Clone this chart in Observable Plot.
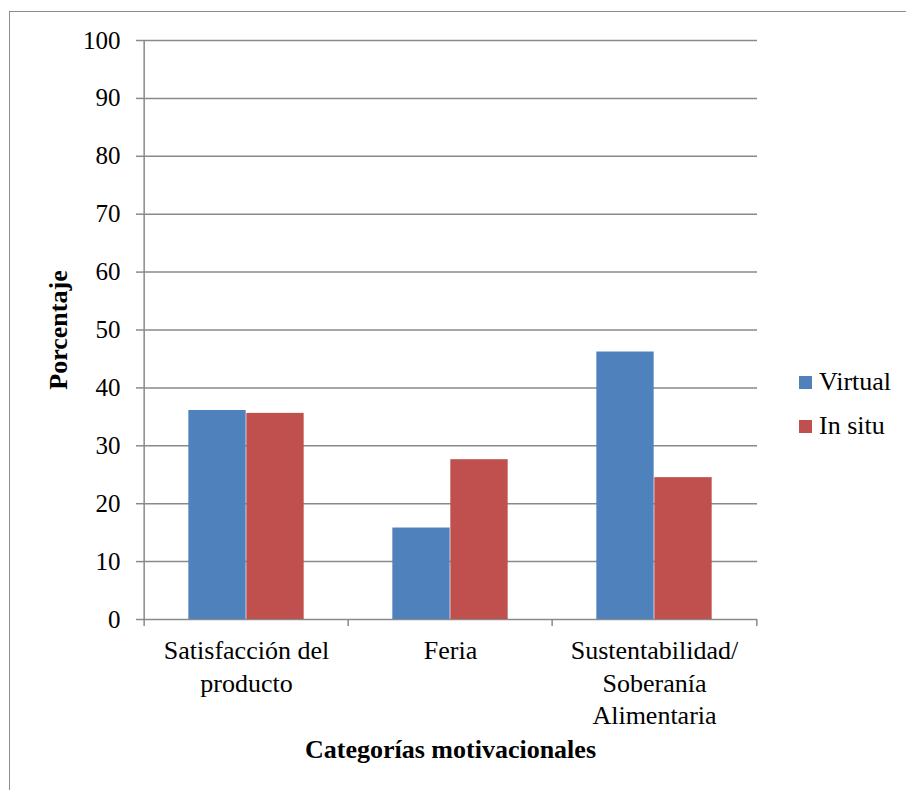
<!DOCTYPE html>
<html><head><meta charset="utf-8">
<script src="https://cdn.jsdelivr.net/npm/d3@7"></script>
<script src="https://cdn.jsdelivr.net/npm/@observablehq/plot@0.6"></script>
<style>
body{margin:0;background:#fff;}
#wrap{position:relative;width:906px;height:790px;font-family:"Liberation Serif","Times New Roman",serif;}
#chart svg{display:block;}
#frame{position:absolute;left:9px;top:11px;right:0;bottom:0;border-left:1px solid #8c8c8c;border-top:1px solid #8c8c8c;pointer-events:none;}
#legend{position:absolute;left:799px;top:360px;font-size:26px;color:#000;}
.item{display:flex;align-items:center;height:44px;}
.sw{width:13px;height:13px;margin-right:7px;}
</style></head><body>
<div id="wrap"><div id="chart"></div><div id="frame"></div><div id="legend"></div></div>
<script>
const categories = ["Satisfacción del producto", "Feria", "Sustentabilidad/ Soberanía Alimentaria"];
const categoryLabels = ["Satisfacción del\nproducto", "Feria", "Sustentabilidad/\nSoberanía\nAlimentaria"];
const series = ["Virtual", "In situ"];
const virtualValues = [36.1, 15.8, 46.2];
const inSituValues = [35.6, 27.6, 24.5];
const yTicks = [0, 10, 20, 30, 40, 50, 60, 70, 80, 90, 100];
const colors = ["#4F81BD", "#C0504D"];

const data = categories.flatMap((c, i) => [
  {cat: c, series: series[0], value: virtualValues[i]},
  {cat: c, series: series[1], value: inSituValues[i]}
]);

const W = 906, H = 790, ml = 143, mr = 149, mt = 40, mb = 171;
const bw = (W - ml - mr) / categories.length;
const barW = bw * 0.2834;
const side = (bw - 2 * barW) / 2;
const grey = "#8a8a8a";
const plotH = H - mt - mb;

const chart = Plot.plot({
  width: W, height: H,
  marginLeft: ml, marginRight: mr, marginTop: mt, marginBottom: mb,
  style: {fontFamily: "'Liberation Serif', 'Times New Roman', serif", fontSize: "25px", color: "#000", background: "transparent", overflow: "visible"},
  x: {domain: categories, padding: 0, label: null},
  y: {domain: [0, 100], label: null},
  color: {domain: series, range: colors},
  marks: [
    Plot.gridY(yTicks, {stroke: grey, strokeOpacity: 1, strokeWidth: 1.5}),
    Plot.barY(data.filter(d => d.series === series[0]), {x: "cat", y: "value", fill: "series", insetLeft: side, insetRight: side + barW}),
    Plot.barY(data.filter(d => d.series === series[1]), {x: "cat", y: "value", fill: "series", insetLeft: side + barW, insetRight: side}),
    Plot.ruleX([categories[0]], {dx: -bw / 2, stroke: grey, strokeWidth: 1.5, insetBottom: -7}),
    Plot.ruleX(categories.slice(1), {dx: -bw / 2, stroke: grey, strokeWidth: 1.5, insetTop: plotH, insetBottom: -7}),
    Plot.ruleX([categories[categories.length - 1]], {dx: bw / 2, stroke: grey, strokeWidth: 1.5, insetTop: plotH, insetBottom: -7}),
    Plot.axisY(yTicks, {tickSize: 7, tickPadding: 16, stroke: grey, strokeWidth: 1.5, fontSize: 25, label: null}),
    Plot.axisX({tickSize: 0, tickPadding: 16, lineHeight: 1.26, fontSize: 26, label: null,
      tickFormat: d => categoryLabels[categories.indexOf(d)]}),
    Plot.text(["Porcentaje"], {text: d => d, frameAnchor: "left", textAnchor: "middle", dx: -85, rotate: -90, fontWeight: "bold", fontSize: 26}),
    Plot.text(["Categorías motivacionales"], {text: d => d, frameAnchor: "bottom", dy: 138, fontWeight: "bold", fontSize: 26})
  ]
});
document.getElementById("chart").appendChild(chart);

const legend = document.getElementById("legend");
series.forEach((s, i) => {
  const item = document.createElement("div");
  item.className = "item";
  const sw = document.createElement("span");
  sw.className = "sw";
  sw.style.background = colors[i];
  const label = document.createElement("span");
  label.textContent = s;
  item.appendChild(sw);
  item.appendChild(label);
  legend.appendChild(item);
});
</script>
</body></html>
